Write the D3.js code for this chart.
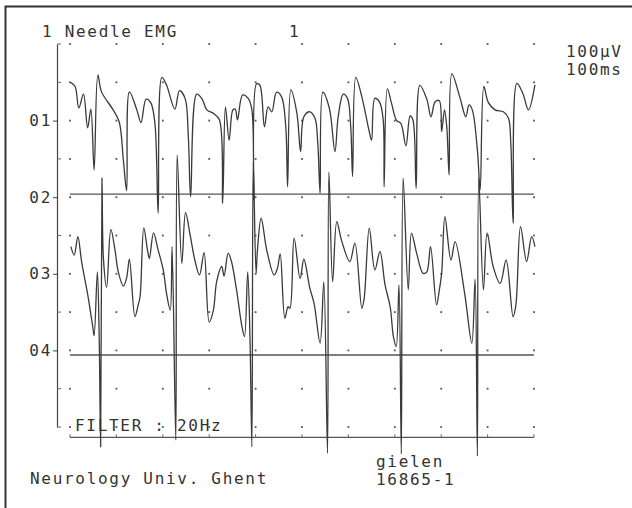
<!DOCTYPE html>
<html>
<head>
<meta charset="utf-8">
<script src="https://cdn.jsdelivr.net/npm/d3@7"></script>
<style>
  body { margin: 0; background: #fff; }
  svg text { font-family: "DejaVu Sans Mono", monospace; font-size: 16px; fill: #333; letter-spacing: 1.7px; }
</style>
</head>
<body>
<svg id="chart"></svg>
<script>
// sweep 1 (channel 01): [time ms, amplitude µV]
const trace1 = [
  [2,99],[11,89],[19,33],[29,69],[38,-19],[45,30],[52,-129],[60,119],[68,75],[93,28],
  [106,-3],[115,-103],[122,-183],[128,75],[144,28],[153,-5],[164,56],[174,47],[183,-7],[190,-242],
  [198,113],[208,93],[226,30],[236,78],[248,58],[255,-42],[260,-199],[273,69],[284,58],[295,28],
  [309,19],[322,2],[329,-216],[335,36],[343,-51],[351,28],[356,30],[361,2],[372,67],[384,58],
  [392,28],[396,-207],[402,96],[409,93],[419,-16],[427,36],[435,23],[445,74],[456,62],[465,-16],
  [469,-173],[476,80],[489,19],[497,-81],[504,10],[517,23],[528,6],[534,-59],[539,-190],[545,74],
  [559,32],[571,-81],[578,10],[589,69],[598,58],[605,-16],[609,-146],[616,113],[629,62],[645,-29],
  [650,-51],[657,58],[667,49],[675,2],[677,-173],[684,83],[693,45],[704,0],[713,-7],[724,-66],
  [733,12],[739,2],[746,-177],[754,92],[769,56],[778,10],[787,49],[796,52],[801,-29],[807,28],
  [812,-16],[817,-142],[823,122],[840,62],[853,10],[860,41],[867,28],[878,-77],[884,-181],[892,89],
  [901,49],[916,28],[934,23],[945,6],[950,-59],[955,-268],[963,97],[976,71],[988,28],[1002,93]
];

// sweep 2 (channel 03): [time ms, amplitude µV]
const trace2 = [
  [2,71],[9,49],[17,97],[25,32],[39,-60],[49,-138],[52,-162],[59,5],[63,-173],[66,-452],
  [69,250],[72,41],[79,-35],[88,116],[97,62],[104,5],[115,-32],[122,-11],[128,38],[140,-112],
  [147,-81],[151,-60],[159,120],[167,62],[171,40],[180,107],[190,62],[201,10],[208,-51],[216,-95],
  [220,71],[228,-434],[231,310],[241,27],[249,160],[259,101],[269,36],[279,-3],[289,55],[300,-126],
  [309,-95],[316,-21],[327,19],[332,-6],[341,54],[348,32],[359,-42],[370,-134],[376,-164],[383,5],
  [388,-173],[392,-452],[395,289],[401,1],[404,62],[412,145],[424,62],[440,-3],[447,14],[453,52],
  [463,-116],[470,-86],[474,-90],[483,93],[496,-12],[504,38],[517,-38],[526,-77],[539,-181],[547,-21],
  [555,-468],[558,266],[566,-21],[575,136],[585,88],[603,32],[614,80],[629,-90],[634,-64],[645,119],
  [657,10],[668,58],[679,-29],[690,-86],[697,-164],[703,-190],[709,-29],[714,-470],[718,250],[729,-42],
  [736,106],[747,54],[761,1],[769,5],[777,71],[790,-81],[796,-42],[801,1],[808,149],[821,36],
  [830,84],[851,-55],[866,-181],[873,-14],[878,-476],[881,250],[891,-42],[899,107],[912,19],[927,-25],
  [940,36],[955,-112],[961,-81],[971,123],[984,32],[995,97],[1002,71]
];

const channelLabels = ["01", "02", "03", "04"];
const channelLevels = [800, 600, 400, 200];
const traceOffsets = [800, 400];
const baselineLevels = [608, 188, -27];
const gridTimes = [0, 100, 200, 300, 400, 500, 600, 700, 800, 900, 1000];
const gridLevels = [0, 100, 200, 300, 400, 500, 600, 700, 800, 900, 1000];

const width = 632;
const height = 508;

const x = d3.scaleLinear().domain([0, 1000]).range([70, 534]);
const y = d3.scaleLinear().domain([1000, 0]).range([44, 427]);

const svg = d3.select("#chart").attr("width", width).attr("height", height);

// frame
svg.append("path")
  .attr("d", `M5.5,${height} V6.5 H${width}`)
  .attr("fill", "none")
  .attr("stroke", "#333")
  .attr("stroke-width", 2);

// dot grid
const dots = [];
gridTimes.forEach((t) => gridLevels.forEach((v) => dots.push([t, v])));
svg.append("g")
  .attr("fill", "#555")
  .selectAll("rect")
  .data(dots)
  .join("rect")
  .attr("x", (d) => x(d[0]) - 0.9)
  .attr("y", (d) => y(d[1]) - 0.9)
  .attr("width", 1.8)
  .attr("height", 1.8);

// sweep baselines
svg.append("g")
  .attr("stroke", "#555")
  .attr("stroke-width", 1.3)
  .selectAll("line")
  .data(baselineLevels)
  .join("line")
  .attr("x1", x(0))
  .attr("x2", x(1000))
  .attr("y1", (d) => y(d))
  .attr("y2", (d) => y(d));

// little ticks on the bottom line
svg.append("g")
  .attr("stroke", "#666")
  .selectAll("line")
  .data(gridTimes)
  .join("line")
  .attr("x1", (d) => x(d))
  .attr("x2", (d) => x(d))
  .attr("y1", y(baselineLevels[2]))
  .attr("y2", y(baselineLevels[2]) - 3);

// channel axis
const yAxis = (g) =>
  g
    .attr("transform", "translate(57,0)")
    .call(
      d3.axisLeft(y)
        .tickValues(channelLevels)
        .tickFormat((d, i) => channelLabels[i])
        .tickSize(4)
        .tickSizeOuter(0)
        .tickPadding(1)
    )
    .call((g) => g.select(".domain").attr("stroke", "#444").attr("stroke-width", 1.2))
    .call((g) => g.selectAll(".tick line").attr("stroke", "#444"))
    .call((g) => g.selectAll(".tick text").attr("font-family", null).attr("font-size", null));
svg.append("g").call(yAxis);

// minor ticks inside the axis
svg.append("g")
  .attr("stroke", "#666")
  .selectAll("line")
  .data(gridLevels.filter((v) => !channelLevels.includes(v)))
  .join("line")
  .attr("x1", 57)
  .attr("x2", 61)
  .attr("y1", (d) => y(d))
  .attr("y2", (d) => y(d));

// EMG sweeps
const line = d3.line().x((d) => x(d[0])).curve(d3.curveCatmullRom.alpha(0.5));
[trace1, trace2].forEach((tr, i) => {
  svg.append("path")
    .datum(tr)
    .attr("fill", "none")
    .attr("stroke", "#3a3a3a")
    .attr("stroke-width", 1.3)
    .attr("stroke-linejoin", "round")
    .attr("d", line.y((d) => y(d[1] + traceOffsets[i])));
});

// texts
const notes = [
  { text: "1 Needle EMG", x: 42, y: 37 },
  { text: "1", x: 289, y: 37 },
  { text: "100µV", x: 566, y: 57 },
  { text: "100ms", x: 566, y: 75 },
  { text: "FILTER : 20Hz", x: 75, y: 431 },
  { text: "Neurology Univ. Ghent", x: 30, y: 484 },
  { text: "gielen", x: 376, y: 467 },
  { text: "16865-1", x: 376, y: 485 },
];
svg.append("g")
  .selectAll("text")
  .data(notes)
  .join("text")
  .attr("x", (d) => d.x)
  .attr("y", (d) => d.y)
  .text((d) => d.text);
</script>
</body>
</html>
